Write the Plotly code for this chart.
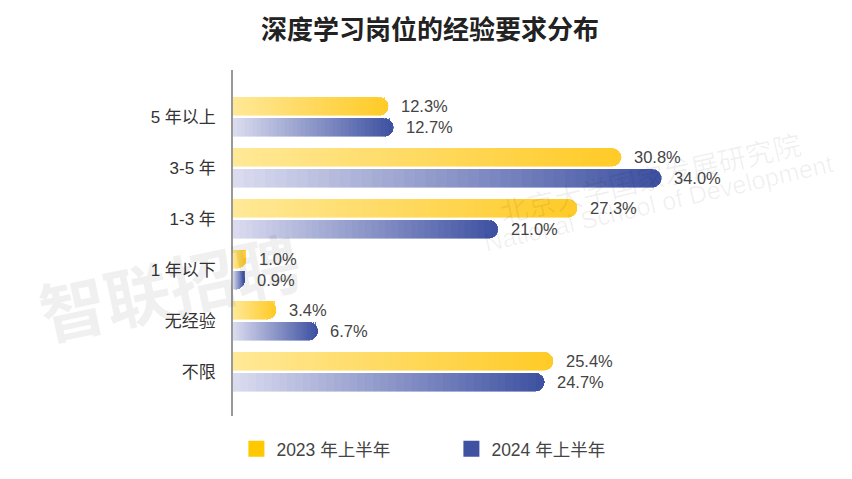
import plotly.graph_objects as go

categories = ["5 年以上", "3-5 年", "1-3 年", "1 年以下", "无经验", "不限"]
series_names = ["2023 年上半年", "2024 年上半年"]
values_2023 = [12.3, 30.8, 27.3, 1.0, 3.4, 25.4]
values_2024 = [12.7, 34.0, 21.0, 0.9, 6.7, 24.7]

FONT = "Liberation Sans, Noto Sans CJK SC, sans-serif"
CJK = "Noto Sans CJK SC"
N_SEG = 40
OFFSET = 0.206
BAR_W = 0.35

series = [
    dict(name=series_names[0], values=values_2023, off=-OFFSET,
         c0=(255, 232, 150), c1=(255, 203, 40), legend="#FFC800"),
    dict(name=series_names[1], values=values_2024, off=OFFSET,
         c0=(218, 219, 239), c1=(63, 82, 162), legend="#3F52A2"),
]


def mix(c0, c1, t):
    return "rgb(%d,%d,%d)" % tuple(round(a + (b - a) * t) for a, b in zip(c0, c1))


fig = go.Figure()

# watermarks (very faint)
fig.add_annotation(xref="paper", yref="paper", x=-0.113, y=0.38, text="<b>智联招聘</b>",
                   showarrow=False, textangle=-12, xanchor="center", yanchor="middle",
                   font=dict(family=CJK, size=66, color="rgba(0,0,0,0.06)"))
fig.add_annotation(xref="paper", yref="paper", x=0.735, y=0.69,
                   text="北京大学国家发展研究院",
                   showarrow=False, textangle=-13, xanchor="center", yanchor="middle",
                   font=dict(family=CJK, size=28, color="rgba(0,0,0,0.06)"))
fig.add_annotation(xref="paper", yref="paper", x=0.75, y=0.615,
                   text="National School of Development",
                   showarrow=False, textangle=-13, xanchor="center", yanchor="middle",
                   font=dict(family=FONT, size=25, color="rgba(0,0,0,0.06)"))

for s in series:
    ypos = [i + s["off"] for i in range(len(categories))]
    for k in range(N_SEG):
        t = k / (N_SEG - 1)
        col = mix(s["c0"], s["c1"], t)
        fig.add_trace(go.Bar(
            x=[v / N_SEG for v in s["values"]], y=ypos, orientation="h",
            width=BAR_W, marker=dict(color=col, line=dict(color=col, width=0.6)),
            showlegend=False, hoverinfo="skip",
        ))
    for v, y in zip(s["values"], ypos):
        fig.add_annotation(x=v, y=y, text=f"{v:.1f}%", showarrow=False,
                           xanchor="left", xshift=11,
                           font=dict(family=FONT, size=16.5, color="#444444"))

for s in series:
    fig.add_trace(go.Scatter(
        x=[None], y=[None], mode="markers", name=s["name"],
        marker=dict(symbol="square", size=18, color=s["legend"]),
    ))

# page body has an 8px margin; figure is sized/placed to compensate
fig.update_layout(
    width=844, height=471,
    margin=dict(l=225, r=52, t=62, b=60),
    paper_bgcolor="white", plot_bgcolor="white",
    barmode="stack", barcornerradius=9,
    title=dict(text="<b>深度学习岗位的经验要求分布</b>", x=0.5, xanchor="center",
               y=1 - 22 / 471, yanchor="middle",
               font=dict(family=CJK, size=26, color="#222222")),
    xaxis=dict(range=[0, 45], showgrid=False, zeroline=False,
               showticklabels=False, showline=False, fixedrange=True,
               automargin=False),
    yaxis=dict(range=[5.87, -0.92], tickvals=list(range(len(categories))),
               ticktext=categories, showgrid=False, zeroline=False,
               showline=True, linecolor="#999999", linewidth=1.5,
               ticks="", ticklabelstandoff=12, automargin=False,
               tickfont=dict(family=FONT, size=17, color="#333333")),
    legend=dict(orientation="h", x=0.006, xanchor="left", y=-0.095, yanchor="middle",
                font=dict(family=FONT, size=17.5, color="#444444"),
                entrywidth=170, traceorder="normal", itemclick=False),
    showlegend=True,
)

fig.write_html("out.html")
